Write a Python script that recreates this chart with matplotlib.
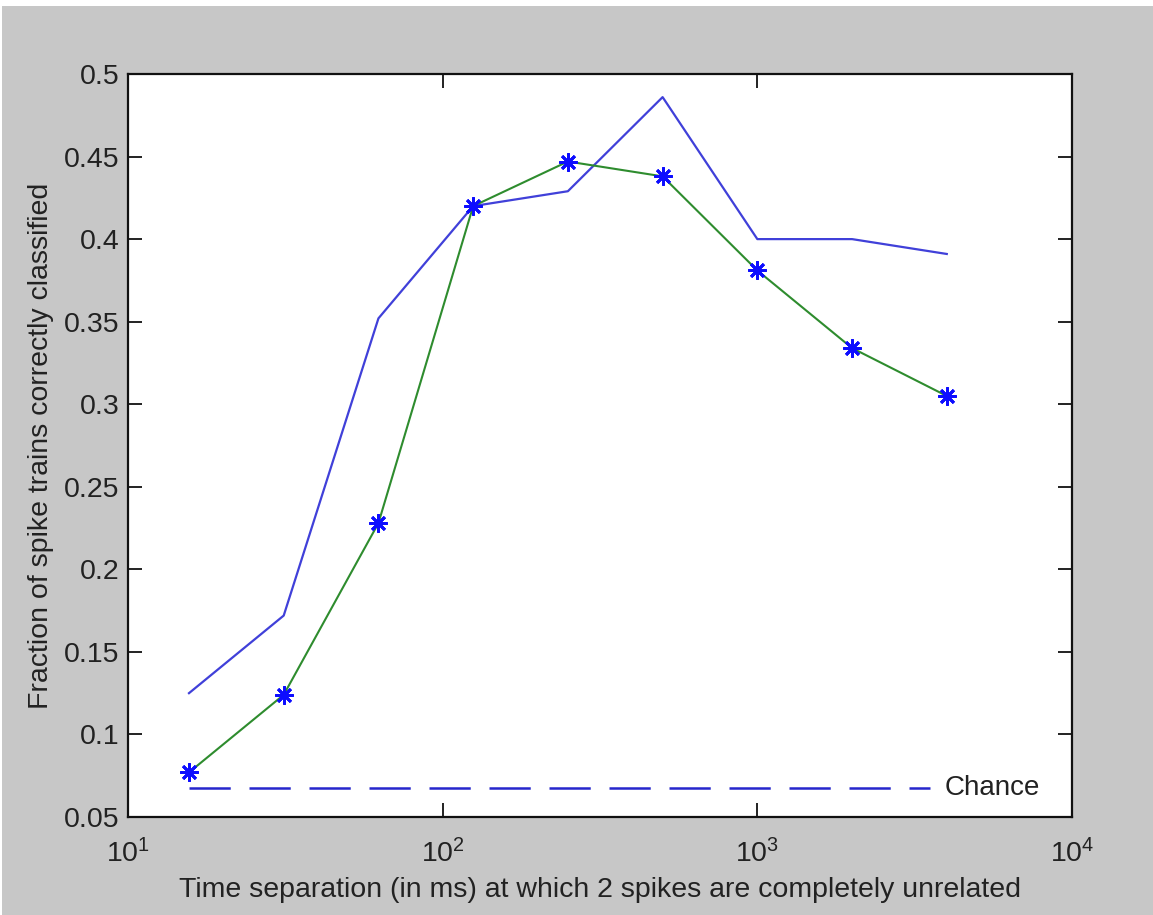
import matplotlib.pyplot as plt
from matplotlib.patches import Rectangle
from matplotlib.ticker import LogLocator, NullLocator

plt.rcParams['font.family'] = ['Liberation Sans', 'DejaVu Sans']
plt.rcParams['mathtext.fontset'] = 'custom'
plt.rcParams['mathtext.rm'] = 'Liberation Sans'
plt.rcParams['mathtext.default'] = 'regular'

# time separation (ms)
separation = [15.625, 31.25, 62.5, 125, 250, 500, 1000, 2000, 4000]
# fraction correctly classified
best_fraction = [0.125, 0.172, 0.352, 0.420, 0.429, 0.486, 0.400, 0.400, 0.391]
mean_fraction = [0.077, 0.124, 0.228, 0.420, 0.447, 0.438, 0.381, 0.334, 0.305]
chance_level = 0.0675
chance_label = "Chance"

xlabel = "Time separation (in ms) at which 2 spikes are completely unrelated"
ylabel = "Fraction of spike trains correctly classified"
yticks = [0.05, 0.1, 0.15, 0.2, 0.25, 0.3, 0.35, 0.4, 0.45, 0.5]
ytick_labels = ["0.05", "0.1", "0.15", "0.2", "0.25", "0.3", "0.35", "0.4", "0.45", "0.5"]

gray = (0.78, 0.78, 0.78)
txt = '#222222'

fig = plt.figure(figsize=(11.53, 9.15), dpi=100, facecolor='white')
fig.patches.append(Rectangle((2 / 1153, 0), 1, 1 - 6 / 915, transform=fig.transFigure,
                             facecolor=gray, edgecolor='none', zorder=-10))
ax = fig.add_axes([128 / 1153, 1 - 817 / 915, (1072 - 128) / 1153, (817 - 74) / 915])
ax.set_facecolor('white')

ax.plot(separation, best_fraction, color=(0.25, 0.25, 0.85), lw=1.6)
ax.plot(separation, mean_fraction, color=(0.18, 0.55, 0.18), lw=1.5,
        marker=(8, 2, 0), markersize=13, markeredgewidth=2.0,
        markeredgecolor=(0.05, 0.05, 1.0), markerfacecolor='none')
ax.plot([separation[0], 3550], [chance_level, chance_level], color=(0.15, 0.15, 0.8),
        lw=1.8, dashes=(16.5, 7.5))
ax.text(3950, chance_level, chance_label, fontsize=20, color=txt,
        va='center', ha='left')

ax.set_xscale('log')
ax.set_xlim(10, 1e4)
ax.set_ylim(0.05, 0.5)
ax.xaxis.set_major_locator(LogLocator(base=10, numticks=10))
ax.xaxis.set_minor_locator(NullLocator())
ax.set_yticks(yticks)
ax.set_yticklabels(ytick_labels)

ax.tick_params(direction='in', length=10, width=1.3, top=True, right=True,
               labelsize=20.5, colors='#111111', labelcolor=txt, pad=6)
ax.tick_params(axis='x', pad=16)
for s in ax.spines.values():
    s.set_linewidth(1.6)
    s.set_color('#111111')

ax.set_xlabel(xlabel, fontsize=20.5, color=txt, labelpad=6)
ax.set_ylabel(ylabel, fontsize=20.5, color=txt, labelpad=7)

fig.savefig('out.png', dpi=100, facecolor=fig.get_facecolor())
